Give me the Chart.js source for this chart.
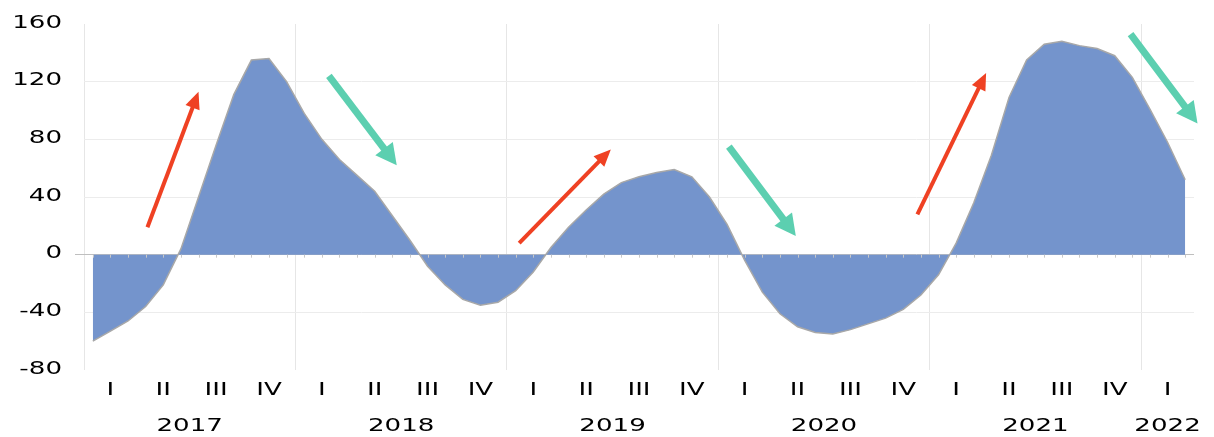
<!DOCTYPE html>
<html>
<head>
<meta charset="utf-8">
<script src="https://cdn.jsdelivr.net/npm/chart.js@4/dist/chart.umd.min.js"></script>
<style>
  body { margin: 0; background: #fff; }
  #wrap { width: 1214px; height: 437px; }
</style>
</head>
<body>
<div id="wrap"><canvas id="mycanvas"></canvas></div>
<script>
// years on the axis, quarter names, y ticks
var years = [2017, 2018, 2019, 2020, 2021, 2022];
var quarters = ['I', 'II', 'III', 'IV'];
var yTicks = [160, 120, 80, 40, 0, -40, -80];

// monthly values, Jan 2017 .. Mar 2022
var values = [
  -60, -53, -46, -36, -21, 4, 40, 76, 111, 135, 136, 120,
  98, 80, 66, 55, 44, 27, 10, -8, -21, -31, -35, -33,
  -25, -12, 5, 19, 31, 42, 50, 54, 57, 59, 54, 40,
  21, -4, -26, -41, -50, -54, -55, -52, -48, -44, -38, -28,
  -14, 8, 36, 69, 109, 135, 146, 148, 145, 143, 138, 123,
  101, 78, 52
];

// arrows in data units: [monthIndex, value] tail -> head
var upArrows = [
  [[3.1, 19], [6.0, 113]],
  [[24.2, 8], [29.4, 73]],
  [[46.8, 28], [50.7, 126]]
];
var downArrows = [
  [[13.4, 124], [17.25, 62]],
  [[36.1, 75], [39.9, 13]],
  [[58.9, 153], [62.7, 91]]
];

var labels = [];
for (var k = 0; k < values.length; k++) {
  labels.push(years[Math.floor(k / 12)] + '-' + (k % 12 + 1));
}

function drawArrow(ctx, x1, y1, x2, y2, color, w, headLen, headW) {
  var ang = Math.atan2(y2 - y1, x2 - x1);
  var bx = x2 - headLen * Math.cos(ang), by = y2 - headLen * Math.sin(ang);
  ctx.strokeStyle = color;
  ctx.fillStyle = color;
  ctx.lineWidth = w;
  ctx.lineCap = 'butt';
  ctx.beginPath();
  ctx.moveTo(x1, y1);
  ctx.lineTo(bx + Math.cos(ang), by + Math.sin(ang));
  ctx.stroke();
  ctx.beginPath();
  ctx.moveTo(x2, y2);
  ctx.lineTo(bx + headW / 2 * Math.sin(ang), by - headW / 2 * Math.cos(ang));
  ctx.lineTo(bx - headW / 2 * Math.sin(ang), by + headW / 2 * Math.cos(ang));
  ctx.closePath();
  ctx.fill();
}

var extras = {
  id: 'extras',
  afterDatasetsDraw: function (chart) {
    var ctx = chart.ctx, x = chart.scales.x, y = chart.scales.y;
    var y0 = y.getPixelForValue(0);
    ctx.save();
    // little marks on the zero line
    ctx.strokeStyle = '#c8c8c8';
    ctx.lineWidth = 1;
    for (var i = 0; i < values.length; i++) {
      var px = Math.round(x.getPixelForValue(i)) + 0.5;
      ctx.beginPath();
      ctx.moveTo(px, y0);
      ctx.lineTo(px, y0 + 3);
      ctx.stroke();
    }
    upArrows.forEach(function (a) {
      drawArrow(ctx, x.getPixelForValue(a[0][0]), y.getPixelForValue(a[0][1]),
        x.getPixelForValue(a[1][0]), y.getPixelForValue(a[1][1]), '#ef4123', 4, 17, 15);
    });
    downArrows.forEach(function (a) {
      drawArrow(ctx, x.getPixelForValue(a[0][0]), y.getPixelForValue(a[0][1]),
        x.getPixelForValue(a[1][0]), y.getPixelForValue(a[1][1]), '#5ccfb0', 7, 21, 22);
    });
    ctx.restore();
  },
  afterDraw: function (chart) {
    var ctx = chart.ctx, x = chart.scales.x, y = chart.scales.y;
    ctx.save();
    ctx.fillStyle = '#000';
    ctx.font = '18px "DejaVu Sans"';
    function put(text, cx, cy, align) {
      ctx.save();
      ctx.translate(cx, cy);
      ctx.scale(1.45, 1);
      ctx.textAlign = align;
      ctx.textBaseline = 'middle';
      ctx.fillText(text, 0, 0);
      ctx.restore();
    }
    yTicks.forEach(function (v) {
      put(String(v), 62, y.getPixelForValue(v) - 1, 'right');
    });
    for (var i = 0; i < values.length; i++) {
      if (i % 3 === 1) put(quarters[Math.floor((i % 12) / 3)], x.getPixelForValue(i), 390, 'center');
    }
    years.forEach(function (yr, j) {
      var first = j * 12, last = Math.min(first + 11, values.length - 1);
      var cx = (x.getPixelForValue(first) + x.getPixelForValue(last)) / 2;
      put(String(yr), cx, 426, 'center');
    });
    ctx.restore();
  }
};

var ctx = document.getElementById('mycanvas');
var chart = new Chart(ctx, {
  type: 'line',
  data: {
    labels: labels,
    datasets: [{
      data: values,
      fill: 'origin',
      backgroundColor: '#7494cc',
      borderColor: '#a8a8a8',
      borderWidth: 1.5,
      pointRadius: 0,
      tension: 0
    }]
  },
  options: {
    responsive: true,
    maintainAspectRatio: false,
    animation: false,
    layout: { padding: { left: 75, right: 20, top: 24, bottom: 67 } },
    plugins: { legend: { display: false }, tooltip: { enabled: false } },
    scales: {
      x: {
        type: 'category',
        offset: true,
        ticks: { display: false },
        border: { display: false },
        grid: {
          offset: true,
          drawTicks: false,
          lineWidth: 1,
          color: function (c) { return c.index % 12 === 0 && c.index < values.length ? '#e6e6e6' : 'rgba(0,0,0,0)'; }
        }
      },
      y: {
        min: -80,
        max: 160,
        ticks: { display: false, stepSize: 40 },
        border: { display: false },
        grid: {
          drawTicks: true,
          tickLength: 9,
          lineWidth: 1,
          color: function (c) {
            var v = c.tick ? c.tick.value : null;
            if (v === 0) return '#bfbfbf';
            if (v === 160 || v === -80) return 'rgba(0,0,0,0)';
            return '#ececec';
          },
          tickColor: function (c) { return c.tick && c.tick.value === 0 ? '#bfbfbf' : 'rgba(0,0,0,0)'; }
        }
      }
    }
  },
  plugins: [extras]
});
</script>
</body>
</html>
